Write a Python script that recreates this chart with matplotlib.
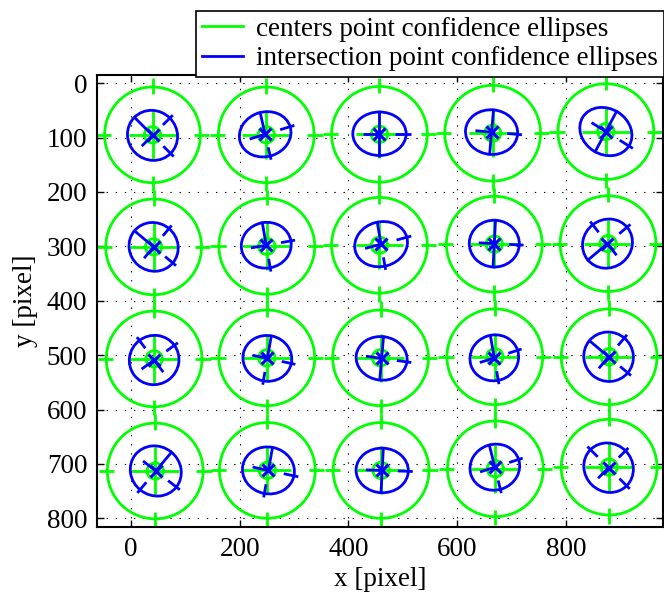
import numpy as np
import matplotlib
matplotlib.use('Agg')
import matplotlib.pyplot as plt
from matplotlib.patches import Circle, Ellipse
from matplotlib.lines import Line2D

plt.rcParams['font.family'] = ['Liberation Serif', 'DejaVu Serif']
plt.rcParams['font.size'] = 19.5

GREEN = '#00ff00'
BLUE = '#0000ff'

# centers point ellipses (pixel), row by row
green_x = [40, 249, 457, 665, 873,
           42, 250, 457, 668, 877,
           43, 250, 459, 669, 879,
           45, 251, 460, 670, 879]
green_y = [95, 95, 94, 92, 89,
           301, 300, 298, 296, 295,
           507, 505, 505, 503, 503,
           713, 712, 712, 709, 706]
green_r = 88
green_r_small = 15

# intersection point ellipses
blue_x = [40, 247, 457, 663, 873,
          42, 249, 460, 668, 876,
          43, 251, 461, 668, 878,
          46, 253, 462, 669, 878]
blue_y = [96, 94, 93, 90, 89,
          301, 298, 296, 295, 295,
          509, 506, 506, 505, 503,
          713, 712, 712, 706, 707]
blue_a = [47, 48, 49, 48, 50,
          46, 46, 49, 46, 44,
          45, 45, 47, 45, 46,
          48, 48, 48, 46, 47]
blue_b = [45, 41, 40, 41, 42,
          44, 42, 41, 43, 47,
          46, 42, 40, 42, 45,
          45, 43, 41, 42, 44]
blue_angA = [45, -17, 0, 5, 32,
             40, -10, -15, 3, 52,
             53, 12, 8, -18, 40,
             38, 12, 2, -18, 45]
blue_angB = [135, 77, 90, 95, 118,
             130, 80, 80, 93, 140,
             144, 100, 95, 80, 130,
             130, 100, 93, 76, 135]
# segment kind per direction: A+, A-, B+, B-
blue_kind = ['ofio', 'oiof', 'oiff', 'oiff', 'oiff',
             'ofio', 'oiof', 'oiof', 'oiff', 'iofo',
             'ioio', 'oiof', 'oiff', 'oiof', 'ofio',
             'oiof', 'oiof', 'oiff', 'oiof', 'ooio']
kind_range = {'i': (0.0, 0.62), 'o': (0.6, 1.17), 'f': (0.0, 1.05)}

fig = plt.figure(figsize=(6.64, 5.94), dpi=100)
ax = fig.add_axes([97 / 664, 67 / 594, 566 / 664, 452 / 594])

lw = 2.0

# green: centers point confidence ellipses
for cx, cy in zip(green_x, green_y):
    ax.add_patch(Circle((cx, cy), green_r, fill=False, ec=GREEN, lw=lw, zorder=2))
    ax.add_patch(Circle((cx, cy), green_r_small, fill=False, ec=GREEN, lw=lw, zorder=2))
    for ang in [0, 90, 180, 270]:
        dx, dy = np.cos(np.radians(ang)), np.sin(np.radians(ang))
        for r0, r1 in [(0, 0.5), (0.86, 1.18)]:
            ax.plot([cx + dx * r0 * green_r, cx + dx * r1 * green_r],
                    [cy + dy * r0 * green_r, cy + dy * r1 * green_r],
                    color=GREEN, lw=lw, solid_capstyle='butt', zorder=2)

# blue: intersection point confidence ellipses
for i in range(len(blue_x)):
    bx, by = blue_x[i], blue_y[i]
    a, b = blue_a[i], blue_b[i]
    ax.add_patch(Ellipse((bx, by), 2 * a, 2 * b, angle=blue_angA[i],
                         fill=False, ec=BLUE, lw=lw, zorder=3))
    dirs = [(blue_angA[i], a), (blue_angA[i] + 180, a),
            (blue_angB[i], b), (blue_angB[i] + 180, b)]
    for (ang, rad), k in zip(dirs, blue_kind[i]):
        r0, r1 = kind_range[k]
        dx, dy = np.cos(np.radians(ang)), np.sin(np.radians(ang))
        ax.plot([bx + dx * r0 * rad, bx + dx * r1 * rad],
                [by + dy * r0 * rad, by + dy * r1 * rad],
                color=BLUE, lw=lw, solid_capstyle='butt', zorder=3)
    ax.plot(bx, by, marker='x', color=BLUE, ms=9, mew=2.2, zorder=4)

ax.set_xlim(-62, 978)
ax.set_ylim(816, -15)
ax.set_xticks([0, 200, 400, 600, 800])
ax.set_yticks(np.arange(0, 801, 100))
ax.tick_params(direction='in', top=True, right=True, length=5, width=1,
               labelsize=19.5, pad=7)
ax.grid(True, color='k', lw=0.8, linestyle=(0, (1.2, 7)))
ax.set_axisbelow(True)
for sp in ax.spines.values():
    sp.set_linewidth(1.5)

ax.set_xlabel('x [pixel]', fontsize=19.5, labelpad=4)
ax.set_ylabel('y [pixel]', fontsize=19.5, labelpad=6)

# legend sits on top of the axes frame, top right
handles = [Line2D([], [], color=GREEN, lw=lw), Line2D([], [], color=BLUE, lw=lw)]
leg = fig.legend(handles, ['centers point confidence ellipses',
                           'intersection point confidence ellipses'],
                 loc='upper right', bbox_to_anchor=(664 / 664, 1 - 11 / 594),
                 bbox_transform=fig.transFigure, fontsize=19.5, frameon=True,
                 fancybox=False, edgecolor='k', framealpha=1,
                 handlelength=1.5, handletextpad=0.5, borderpad=0.22,
                 labelspacing=0.16, borderaxespad=0)
leg.get_frame().set_linewidth(1.2)

fig.savefig('out.png', dpi=100)
